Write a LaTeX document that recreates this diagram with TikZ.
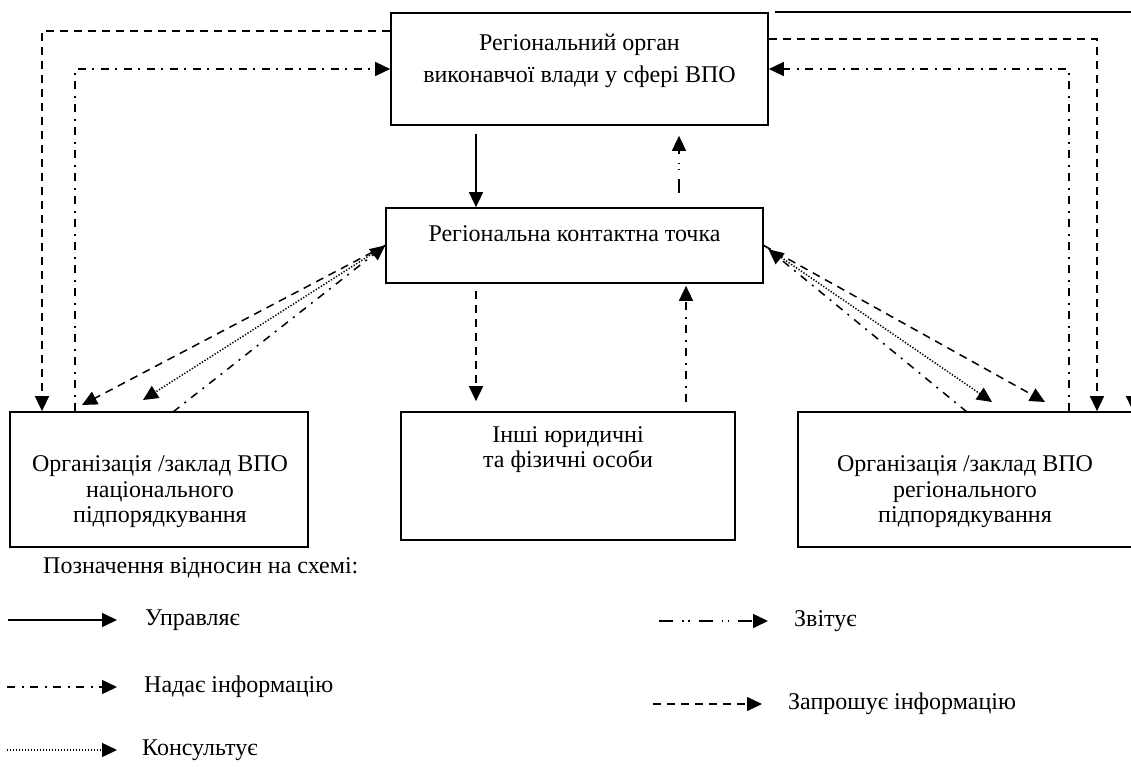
\documentclass[tikz,border=0pt]{standalone}
\usepackage{fontspec}
\setmainfont{Liberation Serif}
\usetikzlibrary{arrows.meta}

\tikzset{
  box/.style={draw, line width=1.7pt, inner sep=0pt},
  txt/.style={align=center, inner sep=0pt, font=\fontsize{24}{25.5}\selectfont},
  tip/.style={line width=1.5pt, -{Triangle[length=15pt,width=14pt]}},
  keruye/.style={tip},
  zvituye/.style={tip, dash pattern=on 14pt off 9pt on 1.5pt off 4.5pt on 1.5pt off 9pt},
  nadaye/.style={tip, dash pattern=on 8pt off 6.5pt on 2pt off 6.5pt},
  zapytuye/.style={tip, dash pattern=on 8pt off 6pt},
  konsultuye/.style={tip, dash pattern=on 1.3pt off 1.7pt}
}

\begin{document}
\begin{tikzpicture}[x=1pt,y=-1pt]
  \useasboundingbox (0,0) rectangle (1131,767);
  \clip (0,0) rectangle (1131,767);

  \node[box, minimum width=377, minimum height=112] (organ) at (579.5,69) {};
  \node[txt] (organ-t) at (579.5,61) {Регіональний орган\\[6pt]виконавчої влади у сфері ВПО};
  \node[box, minimum width=377, minimum height=75] (tochka) at (574.5,245.5) {};
  \node[txt] (tochka-t) at (574.5,234) {Регіональна контактна точка};
  \node[box, minimum width=334, minimum height=128] (inshi) at (568,476) {};
  \node[txt] (inshi-t) at (568,449.5) {Інші юридичні\\та фізичні особи};
  \node[box, minimum width=298, minimum height=135] (nats) at (159,479.5) {};
  \node[txt] (nats-t) at (160,492) {Організація /заклад ВПО\\національного\\підпорядкування};
  \node[box, minimum width=335, minimum height=135] (reg) at (965.5,479.5) {};
  \node[txt] (reg-t) at (965,492) {Організація /заклад ВПО\\регіонального\\підпорядкування};

  \coordinate (zl) at (42,31);
  \coordinate (nl) at (75,69);
  \coordinate (zr) at (1097,39);
  \coordinate (nr) at (1069,69);
  \coordinate (k0) at (775,12);
  \coordinate (kr) at (1133,12);
  \coordinate (c1) at (476,0);
  \coordinate (c2) at (679,0);
  \coordinate (c3) at (686,0);

  \draw[zapytuye] (organ.west |- zl) -- (zl) -- (zl |- nats.north);
  \draw[nadaye] (nl |- nats.north) -- (nl) -- (organ.west);
  \draw[zapytuye] (organ.east |- zr) -- (zr) -- (zr |- reg.north);
  \draw[nadaye] (nr |- reg.north) -- (nr) -- (organ.east);
  \draw[keruye] (k0) -- (kr) -- (kr |- reg.north);

  \draw[keruye, shorten <=8pt] (organ.south -| c1) -- (tochka.north -| c1);
  \draw[zvituye, shorten <=14pt, shorten >=10pt] (tochka.north -| c2) -- (organ.south -| c2);
  \draw[zapytuye, shorten <=7pt, shorten >=10pt] (tochka.south -| c1) -- (inshi.north -| c1);
  \draw[nadaye, shorten <=9pt, shorten >=2pt] (inshi.north -| c3) -- (tochka.south -| c3);

  \coordinate (ld) at (82,405);
  \coordinate (lk) at (143,400);
  \coordinate (ln) at (173,412);
  \coordinate (rd) at (1045,402);
  \coordinate (rk) at (992,402);
  \coordinate (rn) at (967,412);

  \draw[zapytuye] (tochka.west) -- (ld);
  \draw[konsultuye] (tochka.west) -- (lk);
  \draw[nadaye] (ln) -- (tochka.west);
  \draw[zapytuye] (tochka.east) -- (rd);
  \draw[konsultuye] (tochka.east) -- (rk);
  \draw[nadaye, shorten >=6pt] (rn) -- (tochka.east);

  \node[txt, anchor=west] (poznach) at (43,568) {Позначення відносин на схемі:};
  \node[txt, anchor=west] (l-keruye) at (145,620) {Управляє};
  \node[txt, anchor=west] (l-nadaye) at (144,687) {Надає інформацію};
  \node[txt, anchor=west] (l-kons) at (142,750) {Консультує};
  \node[txt, anchor=west] (l-zvit) at (794,621) {Звітує};
  \node[txt, anchor=west] (l-zapyt) at (788,704) {Запрошує інформацію};

  \coordinate (s1) at (8,620);
  \coordinate (s2) at (7,687);
  \coordinate (s3) at (7,750);
  \coordinate (s4) at (659,621);
  \coordinate (s5) at (653,704);

  \draw[keruye, shorten >=28pt] (s1) -- (l-keruye.west);
  \draw[nadaye, shorten >=27pt] (s2) -- (l-nadaye.west);
  \draw[konsultuye, shorten >=25pt] (s3) -- (l-kons.west);
  \draw[zvituye, shorten >=26pt] (s4) -- (l-zvit.west);
  \draw[zapytuye, shorten >=26pt] (s5) -- (l-zapyt.west);
\end{tikzpicture}
\end{document}
